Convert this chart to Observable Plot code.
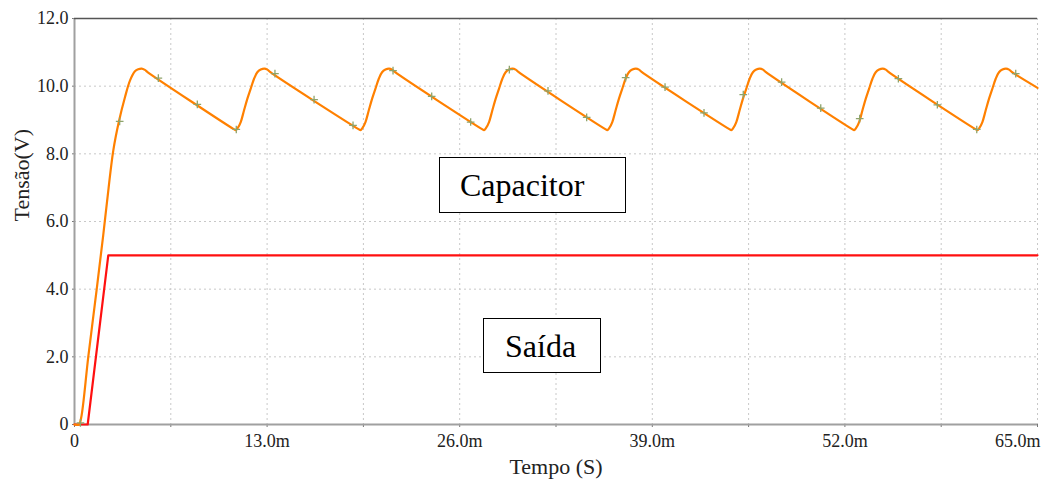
<!DOCTYPE html>
<html>
<head>
<meta charset="utf-8">
<script src="https://cdn.jsdelivr.net/npm/d3@7"></script>
<script src="https://cdn.jsdelivr.net/npm/@observablehq/plot@0.6"></script>
<style>
  html, body { margin: 0; padding: 0; background: #fff; }
  #wrap { position: relative; width: 1042px; height: 481px; font-family: "Liberation Serif", serif; }
  .box { position: absolute; border: 1.5px solid #000; box-sizing: border-box; font-size: 32px; color: #000; background: #fff; }
  #capBox { left: 439px; top: 157px; width: 187px; height: 56px; }
  #capBox span { position: absolute; left: 20px; top: 9px; }
  #outBox { left: 483px; top: 318px; width: 118px; height: 55px; }
  #outBox span { position: absolute; left: 21px; top: 9px; }
</style>
</head>
<body>
<div id="wrap">
  <div id="chart"></div>
  <div class="box" id="capBox"><span>Capacitor</span></div>
  <div class="box" id="outBox"><span>Saída</span></div>
</div>
<script>
// Capacitor voltage (time in ms, volts)
const capTime = [0, 0.3, 0.45, 0.93, 1.5, 1.94, 2.2, 2.62, 3.0, 3.41, 3.75, 4.08, 4.3, 4.53, 4.75, 4.95,
  10.75, 10.88, 11.0, 11.22, 11.44, 11.67, 11.89, 12.12, 12.34, 12.57, 12.81, 13.02, 13.2,
  19.17, 19.3, 19.42, 19.64, 19.86, 20.09, 20.31, 20.54, 20.76, 20.99, 21.23, 21.44, 21.62,
  27.51, 27.64, 27.76, 27.98, 28.2, 28.43, 28.65, 28.88, 29.1, 29.33, 29.57, 29.78, 29.96,
  35.83, 35.96, 36.08, 36.3, 36.52, 36.75, 36.97, 37.2, 37.42, 37.65, 37.89, 38.1, 38.28,
  44.2, 44.33, 44.45, 44.67, 44.89, 45.12, 45.34, 45.57, 45.79, 46.02, 46.26, 46.47, 46.65,
  52.49, 52.62, 52.74, 52.96, 53.18, 53.41, 53.63, 53.86, 54.08, 54.31, 54.55, 54.76, 54.94,
  60.81, 60.94, 61.06, 61.28, 61.5, 61.73, 61.95, 62.18, 62.4, 62.63, 62.87, 63.08, 63.26,
  65.0];
const capVolt = [0, 0, 0.2, 2.0, 4.0, 5.6, 6.6, 8.1, 8.96, 9.68, 10.17, 10.44, 10.5, 10.52, 10.48, 10.41,
  8.73, 8.70, 8.75, 8.94, 9.28, 9.63, 9.92, 10.22, 10.41, 10.49, 10.52, 10.49, 10.42,
  8.73, 8.70, 8.75, 8.94, 9.28, 9.63, 9.92, 10.22, 10.41, 10.49, 10.52, 10.49, 10.42,
  8.73, 8.70, 8.75, 8.94, 9.28, 9.63, 9.92, 10.22, 10.41, 10.49, 10.52, 10.49, 10.42,
  8.73, 8.70, 8.75, 8.94, 9.28, 9.63, 9.92, 10.22, 10.41, 10.49, 10.52, 10.49, 10.42,
  8.73, 8.70, 8.75, 8.94, 9.28, 9.63, 9.92, 10.22, 10.41, 10.49, 10.52, 10.49, 10.42,
  8.73, 8.70, 8.75, 8.94, 9.28, 9.63, 9.92, 10.22, 10.41, 10.49, 10.52, 10.49, 10.42,
  8.73, 8.70, 8.75, 8.94, 9.28, 9.63, 9.92, 10.22, 10.41, 10.49, 10.52, 10.49, 10.42,
  9.95];

// Simulator markers on the capacitor trace
const markTime = [0.4, 3.05, 5.66, 8.29, 10.92, 13.53, 16.17, 18.8, 21.5, 24.11, 26.74, 29.35,
  31.96, 34.57, 37.2, 39.86, 42.49, 45.14, 47.73, 50.37, 53.0, 55.61, 58.24, 60.9, 63.53];
const markVolt = [0.05, 8.96, 10.24, 9.46, 8.72, 10.37, 9.60, 8.84, 10.46, 9.70, 8.94, 10.49,
  9.86, 9.08, 10.25, 9.97, 9.21, 9.75, 10.12, 9.35, 9.04, 10.22, 9.45, 8.72, 10.37];

// Output (Saída) voltage
const outTime = [0, 0.89, 2.28, 65.0];
const outVolt = [0, 0, 5.0, 5.0];

// Axis ticks
const xGrid = [6.5, 13, 19.5, 26, 32.5, 39, 45.5, 52, 58.5, 65];
const xTicks = [0, 6.5, 13, 19.5, 26, 32.5, 39, 45.5, 52, 58.5, 65];
const xLabeled = [0, 13, 26, 39, 52];
const xLast = [65];
const yGrid = [2, 4, 6, 8, 10];
const yTicks = [0, 2, 4, 6, 8, 10, 12];

const fmtX = d => d === 0 ? "0" : d.toFixed(1) + "m";
const cap = capTime.map((t, i) => ({t, v: capVolt[i]}));
const marks = markTime.map((t, i) => ({t, v: markVolt[i]}));
const out = outTime.map((t, i) => ({t, v: outVolt[i]}));

const chart = Plot.plot({
  width: 1042,
  height: 481,
  marginLeft: 74,
  marginRight: 5,
  marginTop: 18,
  marginBottom: 57,
  style: {fontFamily: "Liberation Serif", fontSize: "18px", color: "#222", background: "#fff"},
  x: {domain: [0, 65]},
  y: {domain: [0, 12]},
  marks: [
    Plot.ruleX(xGrid, {stroke: "#c8c8c8", strokeDasharray: "2,3", strokeWidth: 1}),
    Plot.ruleY(yGrid, {stroke: "#c8c8c8", strokeDasharray: "2,3", strokeWidth: 1}),
    Plot.axisX({
      ticks: xTicks, tickSize: 3, tickPadding: 7, stroke: "#777",
      tickFormat: d => xLabeled.includes(d) ? fmtX(d) : "",
      label: null
    }),
    Plot.text(xLast, {x: d => d, frameAnchor: "bottom", dy: 17, dx: 3, textAnchor: "end",
      lineAnchor: "middle", text: fmtX, fontSize: 18, fill: "#222"}),
    Plot.axisY({
      ticks: yTicks, tickSize: 2, tickPadding: 4, stroke: "#777",
      tickFormat: d => d === 0 ? "0" : d.toFixed(1),
      label: null
    }),
    Plot.ruleX([0], {stroke: "#a0a0a0", strokeWidth: 2}),
    Plot.ruleY([0], {stroke: "#a0a0a0", strokeWidth: 2}),
    Plot.ruleY([12], {stroke: "#555", strokeWidth: 1.5}),
    Plot.line(out, {x: "t", y: "v", stroke: "#ff1010", strokeWidth: 2.2}),
    Plot.line(cap, {x: "t", y: "v", stroke: "#ff8000", strokeWidth: 2.2, curve: "catmull-rom"}),
    Plot.dot(marks, {x: "t", y: "v", symbol: "plus", r: 2.6, stroke: "#8ea46c", strokeWidth: 1.3}),
    Plot.text(["Tempo (S)"], {frameAnchor: "bottom", dy: 42, lineAnchor: "middle", fontSize: 22, fill: "#222"}),
    Plot.text(["Tensão(V)"], {frameAnchor: "left", dx: -53, rotate: -90, lineAnchor: "middle", fontSize: 22, fill: "#222"})
  ]
});
document.getElementById("chart").appendChild(chart);
</script>
</body>
</html>
